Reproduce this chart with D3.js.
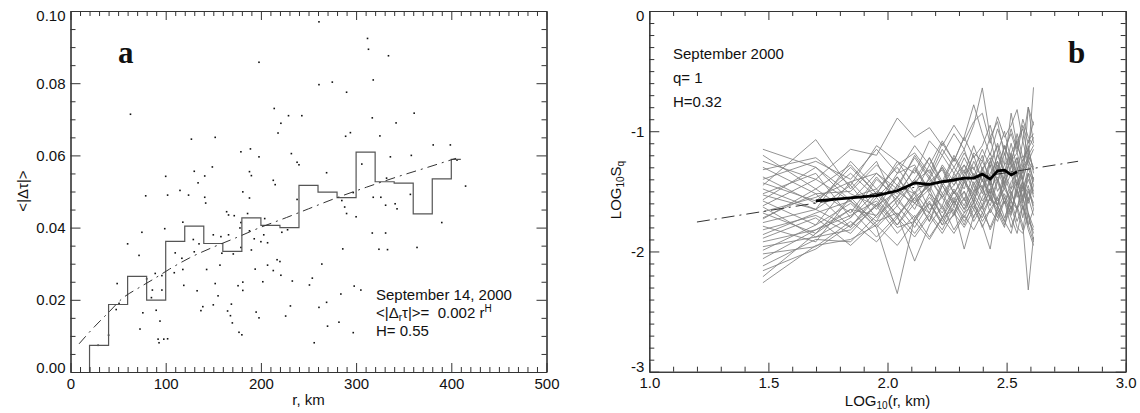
<!DOCTYPE html>
<html><head><meta charset="utf-8">
<script src="https://cdn.jsdelivr.net/npm/d3@7"></script>
<style>
body{margin:0;background:#fff;}
svg{display:block;font-family:"Liberation Sans",Arial,Helvetica,sans-serif;}
</style></head><body>
<svg id="chart" width="1140" height="413"></svg>
<script>
// ---------- Panel a data ----------
const dotR = [63,214,229,243,221,218,152,127,179,189,232,198,238,240,149,130,188,190,141,100,134,213,215,115,124,102,79,181,141,142,188,238,164,166,172,186,118,204,99,75,179,178,188,222,228,150,158,166,129,135,193,203,200,207,60,179,190,159,171,110,130,72,117,217,220,157,207,118,143,194,213,109,89,96,221,80,49,152,119,233,202,181,176,86,96,133,181,85,155,51,48,169,231,76,90,139,137,150,165,168,195,198,226,94,170,73,177,180,40,92,98,102,93,29,251,
198,261,312,313,334,261,275,318,290,317,342,361,289,294,325,381,399,306,336,358,406,269,332,297,285,318,326,288,331,341,343,357,415,390,290,300,317,331,286,324,333,364,264,254,298,305,284,269,261,282,270,297,256];
const dotV = [0.0714,0.0730,0.0710,0.0710,0.0689,0.0662,0.0650,0.0645,0.0610,0.0618,0.0605,0.0596,0.0581,0.0574,0.0568,0.0556,0.0555,0.0544,0.0543,0.0542,0.0524,0.0531,0.0519,0.0503,0.0490,0.0490,0.0488,0.0499,0.0484,0.0468,0.0482,0.0478,0.0444,0.0435,0.0433,0.0439,0.0415,0.0425,0.0397,0.0387,0.0414,0.0399,0.0391,0.0387,0.0394,0.0380,0.0375,0.0380,0.0367,0.0355,0.0369,0.0380,0.0361,0.0358,0.0355,0.0345,0.0338,0.0329,0.0327,0.0330,0.0333,0.0323,0.0315,0.0311,0.0306,0.0296,0.0296,0.0284,0.0284,0.0285,0.0281,0.0275,0.0273,0.0267,0.0268,0.0258,0.0245,0.0245,0.0240,0.0252,0.0250,0.0249,0.0239,0.0227,0.0227,0.0225,0.0226,0.0206,0.0211,0.0190,0.0173,0.0188,0.0183,0.0164,0.0171,0.0181,0.0170,0.0186,0.0169,0.0156,0.0166,0.0150,0.0155,0.0141,0.0136,0.0119,0.0110,0.0103,0.0102,0.0091,0.0091,0.0092,0.0081,0.0074,0.0241,
0.0858,0.0970,0.0924,0.0894,0.0876,0.0796,0.0803,0.0809,0.0775,0.0704,0.0690,0.0717,0.0653,0.0663,0.0654,0.0629,0.0629,0.0576,0.0596,0.0600,0.0587,0.0552,0.0537,0.0497,0.0475,0.0484,0.0484,0.0457,0.0462,0.0466,0.0452,0.0492,0.0515,0.0414,0.0439,0.0430,0.0385,0.0385,0.0341,0.0340,0.0339,0.0345,0.0299,0.0260,0.0238,0.0227,0.0216,0.0193,0.0179,0.0138,0.0127,0.0109,0.0081];
const binEdges = [20,40,60,80,100,120,140,160,180,200,220,240,260,280,300,320,340,360,380,400,410];
const binMeans = [0.0074,0.0187,0.0265,0.0199,0.0362,0.0404,0.0356,0.0334,0.0427,0.0406,0.0400,0.0517,0.0498,0.0483,0.0609,0.0527,0.0523,0.0438,0.0535,0.0589];
const fitR = [9,25,40,55,71,87,104,125,150,174,199,227,250,276,311,346,374,405];
const fitV = [0.0078,0.0125,0.0165,0.0205,0.0232,0.0257,0.0285,0.0316,0.0346,0.0372,0.0400,0.0428,0.0452,0.0479,0.0512,0.0543,0.0566,0.0592];
const aXTicks = [0,100,200,300,400,500];
const aYTicks = [0,0.02,0.04,0.06,0.08,0.10];

// ---------- Panel b data ----------
const logR = [1.477,1.699,1.845,1.954,2.041,2.114,2.176,2.230,2.279,2.322,2.362,2.398,2.431,2.462,2.491,2.519,2.544,2.568,2.591,2.613];
const sqSeries = [
[-1.15,-1.30,-1.58,-1.35,-1.48,-1.20,-1.38,-1.15,-1.30,-1.42,-1.18,-1.25,-1.05,-1.32,-1.12,-1.28,-1.02,-1.22,-1.15,-1.05],
[-1.45,-1.07,-1.48,-1.25,-1.62,-1.40,-1.22,-1.45,-1.30,-1.15,-1.38,-1.20,-1.45,-1.18,-1.35,-1.10,-1.30,-1.42,-1.20,-1.30],
[-1.25,-1.40,-1.15,-1.20,-0.89,-1.05,-0.97,-1.12,-0.95,-1.08,-0.92,-0.85,-1.10,-0.88,-1.05,-0.95,-0.82,-1.08,-0.80,-0.95],
[-1.32,-1.22,-1.45,-1.12,-1.25,-1.35,-1.08,-1.20,-1.02,-1.15,-0.95,-0.64,-1.05,-0.92,-1.20,-0.98,-1.15,-0.90,-1.05,-1.12],
[-1.38,-1.60,-1.30,-1.52,-1.28,-1.18,-1.35,-1.10,-1.25,-1.05,-1.22,-1.12,-0.95,-1.18,-1.00,-1.25,-1.08,-0.98,-1.22,-0.635],
[-1.52,-1.35,-1.72,-1.40,-1.55,-1.30,-1.52,-1.62,-1.35,-1.48,-1.25,-1.40,-1.55,-1.28,-1.45,-1.18,-1.38,-1.50,-1.30,-1.45],
[-1.58,-1.78,-1.42,-1.65,-1.38,-1.58,-1.45,-1.30,-1.52,-1.38,-1.60,-1.32,-1.45,-1.62,-1.35,-1.48,-1.25,-1.42,-1.58,-1.38],
[-1.62,-1.40,-1.58,-1.75,-1.45,-1.65,-1.38,-1.55,-1.70,-1.42,-1.52,-1.35,-1.58,-1.40,-1.55,-1.68,-1.42,-1.55,-1.35,-1.50],
[-1.68,-1.85,-1.55,-1.48,-1.70,-1.52,-1.75,-1.45,-1.60,-1.50,-1.72,-1.55,-1.40,-1.62,-1.75,-1.50,-1.65,-1.42,-1.70,-1.85],
[-1.72,-1.52,-1.80,-1.55,-1.78,-1.60,-1.48,-1.72,-1.55,-1.68,-1.50,-1.45,-1.68,-1.55,-1.42,-1.65,-1.48,-1.72,-1.50,-1.62],
[-1.76,-1.65,-1.45,-1.72,-1.55,-1.40,-1.65,-1.55,-1.38,-1.58,-1.35,-1.52,-1.28,-1.50,-1.38,-1.22,-1.48,-1.32,-1.25,-1.15],
[-1.82,-1.70,-1.85,-1.60,-1.80,-1.75,-1.58,-1.78,-1.70,-1.55,-1.75,-1.62,-1.50,-1.72,-1.55,-1.70,-1.48,-1.62,-1.78,-1.65],
[-1.86,-1.68,-1.58,-1.80,-2.35,-1.72,-1.60,-1.78,-1.58,-1.75,-1.62,-1.72,-1.55,-1.68,-1.80,-1.52,-1.65,-1.82,-1.55,-1.70],
[-1.92,-1.82,-1.65,-1.88,-1.70,-2.08,-1.78,-1.62,-1.82,-1.68,-1.60,-1.80,-1.65,-1.75,-1.58,-1.72,-1.85,-1.62,-1.78,-1.92],
[-1.96,-1.88,-1.82,-1.62,-1.85,-1.70,-1.88,-1.72,-1.65,-1.98,-1.70,-1.62,-1.82,-1.68,-1.58,-1.80,-1.65,-1.55,-1.75,-1.82],
[-2.02,-1.96,-1.75,-1.92,-1.72,-1.88,-1.70,-1.85,-1.68,-1.80,-1.65,-1.78,-1.98,-1.62,-1.75,-1.85,-1.62,-1.78,-2.32,-1.88],
[-2.06,-1.82,-1.70,-1.58,-1.78,-1.55,-1.75,-1.52,-1.68,-1.50,-1.65,-1.48,-1.62,-1.42,-1.60,-1.48,-1.40,-1.58,-1.45,-1.65],
[-2.12,-1.90,-1.92,-1.70,-1.55,-1.75,-1.52,-1.72,-1.50,-1.65,-1.45,-1.62,-1.40,-1.58,-1.48,-1.35,-1.55,-1.42,-1.60,-1.45],
[-2.16,-1.98,-1.78,-1.62,-1.50,-1.60,-1.68,-1.42,-1.58,-1.40,-1.55,-1.35,-1.52,-1.32,-1.48,-1.58,-1.30,-1.48,-1.35,-1.40],
[-2.21,-1.85,-1.65,-1.70,-1.45,-1.52,-1.40,-1.55,-1.45,-1.32,-1.50,-1.30,-1.45,-1.25,-1.42,-1.30,-1.22,-1.40,-1.25,-1.32],
[-2.26,-1.95,-1.90,-1.78,-1.95,-1.75,-1.90,-1.72,-1.85,-1.70,-1.82,-1.68,-1.80,-1.65,-1.78,-1.62,-1.80,-1.85,-1.68,-1.90],
[-1.40,-1.25,-1.40,-1.15,-1.35,-1.12,-1.28,-1.08,-1.25,-1.05,-0.78,-1.02,-1.20,-0.98,-1.15,-1.02,-1.18,-0.95,-1.10,-0.92],
[-1.48,-1.65,-1.25,-1.48,-1.30,-1.52,-1.28,-1.45,-1.22,-1.38,-1.20,-1.42,-1.25,-1.12,-1.35,-1.18,-1.08,-1.30,-1.12,-1.35],
[-1.57,-1.30,-1.52,-1.62,-1.35,-1.28,-1.50,-1.28,-1.42,-1.22,-1.38,-1.48,-1.25,-1.42,-1.18,-1.35,-1.22,-1.40,-0.80,-1.10],
[-1.63,-1.88,-1.72,-1.50,-1.70,-1.55,-1.45,-1.65,-1.48,-1.62,-1.42,-1.58,-1.48,-1.38,-1.60,-1.42,-1.35,-1.55,-1.40,-1.52],
[-1.73,-1.48,-1.68,-1.38,-1.58,-1.42,-1.32,-1.52,-1.38,-1.28,-1.45,-1.32,-1.22,-1.42,-1.28,-1.20,-1.38,-1.25,-1.15,-1.32],
[-1.79,-1.92,-1.55,-1.78,-1.58,-1.72,-1.55,-1.68,-1.50,-1.65,-1.52,-1.65,-1.48,-1.62,-1.45,-1.58,-1.65,-1.45,-1.68,-1.80],
[-1.89,-1.72,-1.95,-1.75,-1.68,-1.85,-1.68,-1.82,-1.62,-1.78,-1.58,-1.75,-1.65,-1.55,-1.72,-1.58,-1.75,-1.62,-1.82,-1.95],
[-1.30,-1.52,-1.50,-1.28,-1.45,-1.22,-1.40,-1.20,-1.35,-1.18,-1.32,-1.15,-1.30,-1.10,-1.28,-0.85,-1.12,-1.25,-1.08,-1.02],
[-1.20,-1.48,-1.28,-1.52,-1.25,-1.45,-1.22,-1.42,-1.20,-1.35,-1.12,-1.32,-1.18,-1.35,-1.12,-1.28,-1.35,-1.08,-1.28,-1.40],
[-1.53,-1.65,-1.80,-1.52,-1.72,-1.50,-1.68,-1.45,-1.62,-1.42,-1.58,-1.40,-1.55,-1.62,-1.38,-1.52,-1.42,-1.60,-1.35,-1.55],
[-1.43,-1.58,-1.35,-1.55,-1.38,-1.60,-1.42,-1.32,-1.52,-1.35,-1.30,-1.48,-1.35,-1.25,-1.45,-1.28,-1.45,-1.30,-1.22,-1.42],
[-1.67,-1.55,-1.42,-1.35,-1.52,-1.32,-1.48,-1.30,-1.45,-1.28,-1.40,-1.25,-1.38,-1.20,-1.35,-1.25,-1.18,-1.35,-1.20,-1.12],
[-1.99,-1.78,-1.60,-1.80,-1.62,-1.80,-1.60,-1.75,-1.58,-1.72,-1.55,-1.68,-1.55,-1.65,-1.52,-1.65,-1.50,-1.65,-1.48,-1.60]
];
const meanLogR = [1.699,1.845,1.954,2.041,2.114,2.176,2.230,2.279,2.322,2.362,2.398,2.431,2.462,2.491,2.519,2.544];
const meanSq = [-1.58,-1.555,-1.535,-1.495,-1.43,-1.442,-1.42,-1.405,-1.39,-1.39,-1.356,-1.398,-1.33,-1.323,-1.364,-1.337];
const bFitX = [1.2,2.8];
const bFitY = [-1.755,-1.25];
const bXTicks = [1.0,1.5,2.0,2.5,3.0];
const bYTicks = [-3,-2,-1,0];

// ---------- drawing ----------
const svg = d3.select("#chart");
const AX = "#333", FS = 15;

function drawFrame(g, x, y, xt, xm, yt, ym, xf, yf, xpad, ypad) {
  const [x0, x1] = x.range(), [yb, yt0] = y.range();
  const [ylo, yhi] = y.domain();
  const style = s => {
    s.attr("font-size", FS).attr("font-family", null);
    s.select(".domain").attr("stroke", AX).attr("stroke-width", 1.1);
    s.selectAll(".tick line").attr("stroke", AX).attr("stroke-width", 1);
    s.selectAll(".tick text").attr("fill", "#111");
  };
  g.append("g").attr("transform", `translate(0,${yb})`)
    .call(d3.axisBottom(x).tickValues(xt).tickSize(-9).tickSizeOuter(0).tickPadding(xpad).tickFormat(xf)).call(style);
  g.append("g").attr("transform", `translate(0,${yb})`)
    .call(d3.axisBottom(x).tickValues(xm).tickSize(-5).tickSizeOuter(0).tickFormat("")).call(style);
  g.append("g").attr("transform", `translate(0,${yt0})`)
    .call(d3.axisTop(x).tickValues(xt).tickSize(-9).tickSizeOuter(0).tickFormat("")).call(style);
  g.append("g").attr("transform", `translate(0,${yt0})`)
    .call(d3.axisTop(x).tickValues(xm).tickSize(-5).tickSizeOuter(0).tickFormat("")).call(style);
  const left = g.append("g").attr("transform", `translate(${x0},0)`)
    .call(d3.axisLeft(y).tickValues(yt).tickSize(-10).tickSizeOuter(0).tickPadding(ypad).tickFormat(yf)).call(style);
  left.selectAll(".tick text").attr("dy", d => Math.abs(d - ylo) < 1e-9 ? "0em" : Math.abs(d - yhi) < 1e-9 ? "0.62em" : "0.32em");
  g.append("g").attr("transform", `translate(${x0},0)`)
    .call(d3.axisLeft(y).tickValues(ym).tickSize(-5).tickSizeOuter(0).tickFormat("")).call(style);
  g.append("g").attr("transform", `translate(${x1},0)`)
    .call(d3.axisRight(y).tickValues(yt).tickSize(-10).tickSizeOuter(0).tickFormat("")).call(style);
  g.append("g").attr("transform", `translate(${x1},0)`)
    .call(d3.axisRight(y).tickValues(ym).tickSize(-5).tickSizeOuter(0).tickFormat("")).call(style);
}
function minors(lo, hi, step, majors) {
  return d3.range(lo, hi + step / 2, step).map(v => +v.toFixed(4))
    .filter(v => !majors.some(m => Math.abs(m - v) < step / 10));
}

// ===== Panel a =====
const xa = d3.scaleLinear().domain([0, 500]).range([70.5, 546.5]);
const ya = d3.scaleLinear().domain([0, 0.1]).range([372, 11]);
const ga = svg.append("g");

ga.append("g").selectAll("rect").data(dotR.map((r, i) => [r, dotV[i]])).join("rect")
  .attr("x", d => xa(d[0]) - 0.8).attr("y", d => ya(d[1]) - 0.8)
  .attr("width", 1.6).attr("height", 1.6).attr("fill", "#111");

const stepPts = [[binEdges[0], 0]];
binMeans.forEach((v, i) => { stepPts.push([binEdges[i], v]); stepPts.push([binEdges[i + 1], v]); });
ga.append("path").datum(stepPts)
  .attr("d", d3.line().x(d => xa(d[0])).y(d => ya(d[1])))
  .attr("fill", "none").attr("stroke", "#555").attr("stroke-width", 1.2);

ga.append("path").datum(fitR.map((r, i) => [r, fitV[i]]))
  .attr("d", d3.line().x(d => xa(d[0])).y(d => ya(d[1])).curve(d3.curveMonotoneX))
  .attr("fill", "none").attr("stroke", "#333").attr("stroke-width", 1)
  .attr("stroke-dasharray", "10,5,2,5");

drawFrame(ga, xa, ya, aXTicks, minors(0, 500, 10, aXTicks), aYTicks, minors(0, 0.1, 0.005, aYTicks),
  d3.format("d"), d3.format(".2f"), 6, 5);

ga.append("text").attr("x", 118).attr("y", 63).attr("font-family", "'Liberation Serif','DejaVu Serif',serif")
  .attr("font-weight", "bold").attr("font-size", 31).attr("fill", "#111").text("a");

const annA = ga.append("g").attr("font-size", FS).attr("fill", "#111");
annA.append("text").attr("x", 376).attr("y", 300).text("September 14, 2000");
const l2 = annA.append("text").attr("x", 376).attr("y", 318).attr("xml:space", "preserve");
l2.append("tspan").text("<|Δ");
l2.append("tspan").attr("font-size", 10).attr("dy", 3).text("r");
l2.append("tspan").attr("dy", -3).text("τ|>=  0.002 r");
l2.append("tspan").attr("font-size", 10).attr("dy", -6).text("H");
annA.append("text").attr("x", 376).attr("y", 336).text("H= 0.55");

ga.append("text").attr("x", 308.5).attr("y", 405).attr("text-anchor", "middle")
  .attr("font-size", FS).attr("fill", "#111").text("r, km");
ga.append("text").attr("transform", "translate(28,191) rotate(-90)").attr("text-anchor", "middle")
  .attr("font-size", FS).attr("fill", "#111").text("<|Δτ|>");

// ===== Panel b =====
const xb = d3.scaleLinear().domain([1, 3]).range([649.3, 1125.7]);
const yb = d3.scaleLinear().domain([-3, 0]).range([371.7, 11]);
const gb = svg.append("g");

const lineB = d3.line().x(d => xb(d[0])).y(d => yb(d[1]));
gb.append("g").selectAll("path").data(sqSeries.map(s => s.map((v, i) => [logR[i], v]))).join("path")
  .attr("d", lineB).attr("fill", "none").attr("stroke", "#808080").attr("stroke-width", 0.85);

gb.append("path").datum(bFitX.map((x, i) => [x, bFitY[i]])).attr("d", lineB)
  .attr("fill", "none").attr("stroke", "#333").attr("stroke-width", 1)
  .attr("stroke-dasharray", "13,5,2,5");

gb.append("path").datum(meanLogR.map((x, i) => [x, meanSq[i]])).attr("d", lineB)
  .attr("fill", "none").attr("stroke", "#000").attr("stroke-width", 2.8).attr("stroke-linejoin", "round");

drawFrame(gb, xb, yb, bXTicks, minors(1, 3, 0.1, bXTicks), bYTicks, minors(-3, 0, 0.1, bYTicks),
  d3.format(".1f"), d => String(d), 6, 5);

gb.append("text").attr("x", 1068).attr("y", 63).attr("font-family", "'Liberation Serif','DejaVu Serif',serif")
  .attr("font-weight", "bold").attr("font-size", 31).attr("fill", "#111").text("b");

const annB = gb.append("g").attr("font-size", FS).attr("fill", "#111");
annB.append("text").attr("x", 673).attr("y", 58.5).text("September 2000");
annB.append("text").attr("x", 673).attr("y", 82.5).text("q= 1");
annB.append("text").attr("x", 673).attr("y", 106.5).text("H=0.32");

const xt = gb.append("text").attr("x", 887.5).attr("y", 405.5).attr("text-anchor", "middle")
  .attr("font-size", FS).attr("fill", "#111");
xt.append("tspan").text("LOG");
xt.append("tspan").attr("font-size", 10).attr("dy", 3).text("10");
xt.append("tspan").attr("dy", -3).text("(r, km)");

const yt = gb.append("text").attr("transform", "translate(621,190) rotate(-90)").attr("text-anchor", "middle")
  .attr("font-size", FS).attr("fill", "#111");
yt.append("tspan").text("LOG");
yt.append("tspan").attr("font-size", 10).attr("dy", 3).text("10");
yt.append("tspan").attr("dy", -3).text("S");
yt.append("tspan").attr("font-size", 10).attr("dy", 3).text("q");
</script></body></html>
